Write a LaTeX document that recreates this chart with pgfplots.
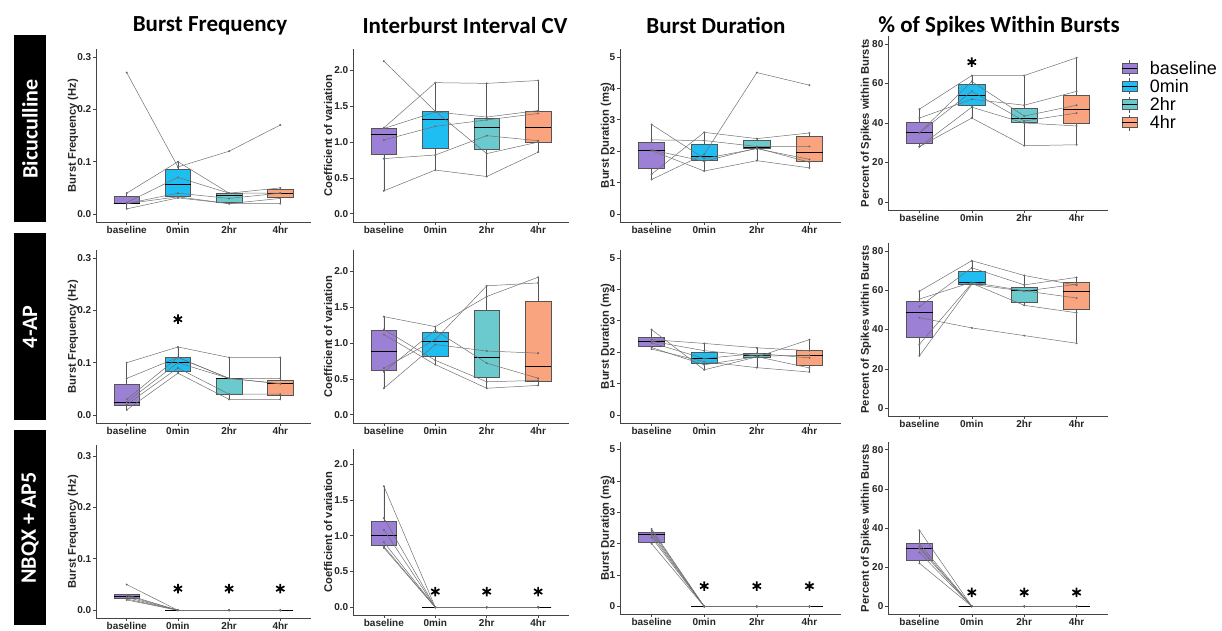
\documentclass[border=0pt]{standalone}
\usepackage{fontspec}
\setmainfont{Liberation Sans}
\newfontfamily\calfont{Carlito}
\usepackage{pgfplots}
\pgfplotsset{compat=1.18}
\usepgfplotslibrary{statistics}
\definecolor{cbase}{HTML}{9B80D6}
\definecolor{cmin}{HTML}{1FBEF2}
\definecolor{ctwo}{HTML}{6ACACD}
\definecolor{cfour}{HTML}{F9A37F}
\definecolor{boxgray}{HTML}{555555}
\definecolor{axgray}{HTML}{444444}
\definecolor{lngray}{HTML}{707070}

\newcommand{\bx}[7]{\addplot[draw=boxgray, line width=0.5pt, fill=#7,
  boxplot/draw direction=y,
  boxplot prepared={draw position=#1, lower whisker=#2, lower quartile=#3, median=#4,
  upper quartile=#5, upper whisker=#6, box extend=0.5, whisker extend=0},
  boxplot/every median/.style={draw=black, line width=1pt}] coordinates {};}
\newcommand{\subj}[4]{\addplot[lngray, line width=0.5pt, mark=*, mark size=0.7pt,
  mark options={fill=black!85, draw=none}] coordinates {(1,#1) (2,#2) (3,#3) (4,#4)};}
\newcommand{\sig}[2]{\addplot[only marks, mark=asterisk, mark size=4.8pt,
  mark options={line width=1.7pt, black}] coordinates {(#1,#2)};}

\pgfplotsset{
  panel/.style={scale only axis, axis lines=left, axis line style={-, draw=axgray, line width=0.7pt},
    xmin=0.4, xmax=4.6, xtick={1,2,3,4}, xticklabels={baseline,0min,2hr,4hr},
    tick align=outside, major tick length=3pt, tick style={draw=axgray, line width=0.6pt},
    ticklabel style={font=\fontsize{10}{12}\selectfont\bfseries, text=black!85},
    xticklabel style={inner sep=1.5pt}, yticklabel style={inner sep=1.5pt},
    clip=false},
  yl/.style={every axis y label/.style={at={(axis description cs:0,0.5)}, xshift=#1, rotate=90,
    anchor=center, font=\fontsize{11.2}{13}\selectfont\bfseries, text=black!85}},
  c1/.style={panel, width=215pt, ytick={0,0.1,0.2,0.3}, yticklabels={0.0,0.1,0.2,0.3},
    ylabel={Burst Frequency (Hz)}, yl=-23pt},
  c2/.style={panel, width=216pt, ytick={0,0.5,1,1.5,2}, yticklabels={0.0,0.5,1.0,1.5,2.0},
    ylabel={Coefficient of variation}, yl=-25pt},
  c3/.style={panel, width=221pt, ytick={0,1,2,3,4,5}, yticklabels={0,1,2,3,4,5},
    ylabel={Burst Duration (ms)}, yl=-14pt},
  c4/.style={panel, width=220pt, ytick={0,20,40,60,80}, yticklabels={0,20,40,60,80},
    ylabel={Percent of Spikes within Bursts}, yl=-22pt},
}

\begin{document}
\begin{tikzpicture}[x=1pt,y=1pt]
\path[use as bounding box] (0,0) rectangle (1222,631);

% titles
\begin{scope}[every node/.style={font=\calfont\bfseries\fontsize{23}{26}\selectfont}]
\node at (210,605) {Burst Frequency};
\node at (465,605) {Interburst Interval CV};
\node at (716,605) {Burst Duration};
\node at (999,605) {\% of Spikes Within Bursts};
\end{scope}

% row labels
\fill[black] (14,409) rectangle (46,596);
\fill[black] (14,211) rectangle (46,398);
\fill[black] (14,6) rectangle (46,201);
\begin{scope}[every node/.style={font=\calfont\bfseries\fontsize{22}{24}\selectfont, text=white, rotate=90}]
\node at (30,502) {Bicuculline};
\node at (30,304) {4-AP};
\node at (30,103) {NBQX + AP5};
\end{scope}

%%%%%%%%%%%%%%%% ROW 1
\begin{axis}[c1, at={(96pt,409pt)}, anchor=south west, height=173pt, ymin=-0.015, ymax=0.315]
\bx{1}{0.01}{0.02}{0.021}{0.035}{0.04}{cbase}
\bx{2}{0.031}{0.035}{0.056}{0.086}{0.10}{cmin}
\bx{3}{0.02}{0.023}{0.035}{0.04}{0.04}{ctwo}
\bx{4}{0.02}{0.033}{0.04}{0.047}{0.05}{cfour}
\subj{0.27}{0.09}{0.12}{0.17}
\subj{0.04}{0.10}{0.04}{0.05}
\subj{0.022}{0.07}{0.04}{0.04}
\subj{0.02}{0.04}{0.03}{0.04}
\subj{0.02}{0.033}{0.02}{0.03}
\subj{0.01}{0.031}{0.02}{0.02}
\end{axis}

\begin{axis}[c2, at={(353pt,409pt)}, anchor=south west, height=173pt, ymin=-0.115, ymax=2.3]
\bx{1}{0.32}{0.835}{1.11}{1.2}{1.2}{cbase}
\bx{2}{0.61}{0.92}{1.32}{1.4275}{1.83}{cmin}
\bx{3}{0.52}{0.9}{1.2}{1.34}{1.82}{ctwo}
\bx{4}{0.86}{1.005}{1.21}{1.43}{1.86}{cfour}
\subj{2.13}{1.43}{0.84}{1.00}
\subj{1.20}{1.83}{1.82}{1.86}
\subj{1.19}{1.42}{1.35}{1.44}
\subj{1.03}{1.22}{1.31}{1.40}
\subj{0.77}{0.82}{1.09}{1.02}
\subj{0.32}{0.61}{0.52}{0.86}
\end{axis}

\begin{axis}[c3, at={(620pt,409pt)}, anchor=south west, height=173pt, ymin=-0.25, ymax=5.25]
\bx{1}{1.10}{1.46}{2.03}{2.29}{2.85}{cbase}
\bx{2}{1.37}{1.70}{1.84}{2.23}{2.60}{cmin}
\bx{3}{1.70}{2.085}{2.125}{2.34}{2.40}{ctwo}
\bx{4}{1.47}{1.67}{1.95}{2.47}{2.58}{cfour}
\subj{1.10}{1.90}{4.50}{4.10}
\subj{1.27}{2.60}{2.40}{2.58}
\subj{2.85}{1.77}{2.08}{1.74}
\subj{2.36}{2.34}{2.15}{2.15}
\subj{2.04}{1.68}{2.10}{1.65}
\subj{2.02}{1.37}{1.70}{1.47}
\end{axis}

\begin{axis}[c4, at={(888pt,421pt)}, anchor=south west, height=174pt, ymin=-4, ymax=84,
  legend style={at={(axis description cs:1.06,0.865)}, anchor=north west, draw=none, fill=none,
    font=\fontsize{18}{20}\selectfont, row sep=0.5pt, inner sep=0pt, nodes={inner sep=1.5pt},
    /tikz/every odd column/.append style={column sep=11pt}},
  legend cell align=left,
  legend image code/.code={
    \draw[#1, draw=boxgray, line width=0.5pt] (0pt,-5pt) rectangle (15pt,5pt);
    \draw[black, line width=0.9pt] (0pt,0pt) -- (15pt,0pt);
    \draw[boxgray, line width=0.5pt] (7.5pt,5pt) -- (7.5pt,8pt) (7.5pt,-5pt) -- (7.5pt,-8pt);}]
\addlegendimage{fill=cbase}\addlegendentry{baseline}
\addlegendimage{fill=cmin}\addlegendentry{0min}
\addlegendimage{fill=ctwo}\addlegendentry{2hr}
\addlegendimage{fill=cfour}\addlegendentry{4hr}
\bx{1}{28}{29.75}{35}{40.6}{47}{cbase}
\bx{2}{42.5}{49}{54}{59.75}{64}{cmin}
\bx{3}{28.5}{40.25}{42.25}{47.6}{64}{ctwo}
\bx{4}{29}{40.1}{47}{54.25}{73}{cfour}
\subj{47}{64}{64}{73}
\subj{42.5}{52}{49}{56}
\subj{35}{61}{43.5}{49}
\subj{35}{56}{41}{45}
\subj{28}{48}{40}{38.5}
\subj{28}{42.5}{28.5}{29}
\sig{2}{70.8}
\end{axis}

%%%%%%%%%%%%%%%% ROW 2
\begin{axis}[c1, at={(96pt,208pt)}, anchor=south west, height=173pt, ymin=-0.015, ymax=0.315]
\bx{1}{0.01}{0.0185}{0.024}{0.0587}{0.10}{cbase}
\bx{2}{0.08}{0.083}{0.10}{0.11}{0.13}{cmin}
\bx{3}{0.03}{0.04}{0.069}{0.07}{0.11}{ctwo}
\bx{4}{0.03}{0.037}{0.06}{0.067}{0.11}{cfour}
\subj{0.10}{0.13}{0.11}{0.11}
\subj{0.07}{0.11}{0.07}{0.06}
\subj{0.03}{0.11}{0.07}{0.07}
\subj{0.025}{0.10}{0.07}{0.06}
\subj{0.02}{0.09}{0.04}{0.04}
\subj{0.01}{0.08}{0.03}{0.03}
\sig{2}{0.183}
\end{axis}

\begin{axis}[c2, at={(353pt,208pt)}, anchor=south west, height=173pt, ymin=-0.115, ymax=2.3]
\bx{1}{0.37}{0.62}{0.883}{1.173}{1.37}{cbase}
\bx{2}{0.69}{0.81}{1.02}{1.145}{1.23}{cmin}
\bx{3}{0.36}{0.52}{0.80}{1.46}{1.80}{ctwo}
\bx{4}{0.41}{0.47}{0.68}{1.59}{1.92}{cfour}
\subj{1.37}{1.23}{1.65}{1.92}
\subj{1.19}{0.76}{0.46}{0.48}
\subj{1.12}{0.70}{0.37}{0.41}
\subj{0.65}{1.05}{1.80}{1.84}
\subj{0.60}{1.18}{0.72}{0.51}
\subj{0.37}{0.98}{0.89}{0.86}
\end{axis}

\begin{axis}[c3, at={(620pt,208pt)}, anchor=south west, height=173pt, ymin=-0.25, ymax=5.25]
\bx{1}{2.10}{2.18}{2.35}{2.48}{2.72}{cbase}
\bx{2}{1.44}{1.64}{1.81}{1.99}{2.28}{cmin}
\bx{3}{1.51}{1.84}{1.88}{1.96}{2.14}{ctwo}
\bx{4}{1.37}{1.57}{1.90}{2.07}{2.40}{cfour}
\subj{2.72}{1.44}{1.85}{2.40}
\subj{2.40}{2.28}{2.14}{2.05}
\subj{2.35}{2.05}{1.88}{1.90}
\subj{2.30}{1.80}{1.96}{1.82}
\subj{2.15}{1.60}{1.86}{1.50}
\subj{2.10}{1.70}{1.51}{1.37}
\end{axis}

\begin{axis}[c4, at={(888pt,215pt)}, anchor=south west, height=173pt, ymin=-4, ymax=84]
\bx{1}{26.6}{35.9}{48.9}{54.3}{59.5}{cbase}
\bx{2}{63}{63.1}{63.9}{69.5}{75}{cmin}
\bx{3}{52.3}{54.1}{59.7}{61.7}{67.8}{ctwo}
\bx{4}{33}{50.4}{59.2}{64}{66.5}{cfour}
\subj{59.5}{75}{67.5}{62.5}
\subj{55.5}{64}{59.7}{56}
\subj{51.6}{71.4}{62.7}{66.5}
\subj{46}{40.8}{36.9}{33}
\subj{32.5}{63.5}{52.3}{48.5}
\subj{26.6}{63}{59.5}{63}
\end{axis}

%%%%%%%%%%%%%%%% ROW 3
\begin{axis}[c1, at={(96pt,13pt)}, anchor=south west, height=173pt, ymin=-0.015, ymax=0.321]
\bx{1}{0.02}{0.023}{0.027}{0.0305}{0.03}{cbase}
\bx{2}{0}{0}{0}{0}{0}{cmin}
\bx{3}{0}{0}{0}{0}{0}{ctwo}
\bx{4}{0}{0}{0}{0}{0}{cfour}
\subj{0.05}{0}{0}{0}
\subj{0.03}{0}{0}{0}
\subj{0.028}{0}{0}{0}
\subj{0.025}{0}{0}{0}
\subj{0.022}{0}{0}{0}
\subj{0.02}{0}{0}{0}
\sig{2}{0.042}\sig{3}{0.042}\sig{4}{0.042}
\end{axis}

\begin{axis}[c2, at={(353pt,16pt)}, anchor=south west, height=166pt, ymin=-0.107, ymax=2.21]
\bx{1}{0.83}{0.86}{1.0}{1.2}{1.69}{cbase}
\bx{2}{0}{0}{0}{0}{0}{cmin}
\bx{3}{0}{0}{0}{0}{0}{ctwo}
\bx{4}{0}{0}{0}{0}{0}{cfour}
\subj{1.69}{0}{0}{0}
\subj{1.245}{0}{0}{0}
\subj{1.083}{0}{0}{0}
\subj{0.91}{0}{0}{0}
\subj{0.85}{0}{0}{0}
\subj{0.83}{0}{0}{0}
\sig{2}{0.22}\sig{3}{0.22}\sig{4}{0.22}
\end{axis}

\begin{axis}[c3, at={(620pt,17pt)}, anchor=south west, height=172pt, ymin=-0.24, ymax=5.24]
\bx{1}{2.0}{2.05}{2.28}{2.37}{2.47}{cbase}
\bx{2}{0}{0}{0}{0}{0}{cmin}
\bx{3}{0}{0}{0}{0}{0}{ctwo}
\bx{4}{0}{0}{0}{0}{0}{cfour}
\subj{2.47}{0}{0}{0}
\subj{2.42}{0}{0}{0}
\subj{2.35}{0}{0}{0}
\subj{2.28}{0}{0}{0}
\subj{2.2}{0}{0}{0}
\subj{2.0}{0}{0}{0}
\sig{2}{0.65}\sig{3}{0.65}\sig{4}{0.65}
\end{axis}

\begin{axis}[c4, at={(888pt,17pt)}, anchor=south west, height=172pt, ymin=-3.9, ymax=83.9]
\bx{1}{22}{23.5}{29.5}{32.4}{38.8}{cbase}
\bx{2}{0}{0}{0}{0}{0}{cmin}
\bx{3}{0}{0}{0}{0}{0}{ctwo}
\bx{4}{0}{0}{0}{0}{0}{cfour}
\subj{38.8}{0}{0}{0}
\subj{32}{0}{0}{0}
\subj{30.5}{0}{0}{0}
\subj{29.5}{0}{0}{0}
\subj{27.5}{0}{0}{0}
\subj{22}{0}{0}{0}
\sig{2}{7.1}\sig{3}{7.1}\sig{4}{7.1}
\end{axis}
\end{tikzpicture}
\end{document}
